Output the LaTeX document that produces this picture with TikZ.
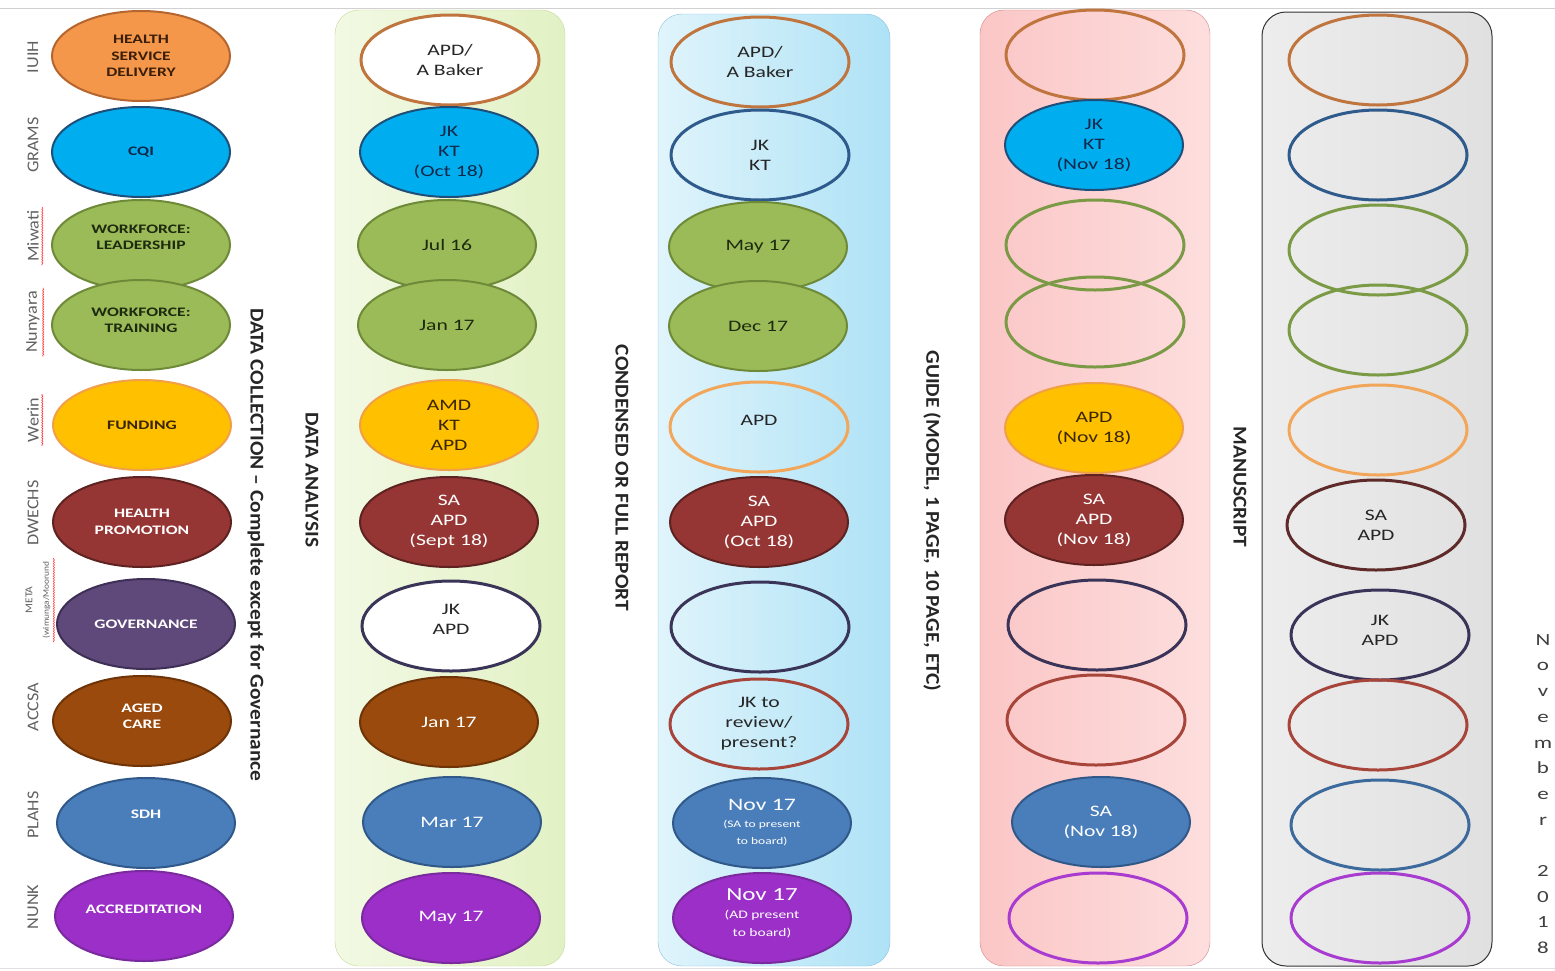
\documentclass[tikz,border=0pt]{standalone}
\usepackage{fontspec}
\setmainfont{Carlito}[FakeStretch=1.35]
\newfontfamily\headfont{Carlito}[FakeStretch=1.1]
\usetikzlibrary{shapes.geometric,decorations.pathmorphing}

\definecolor{hsd}{HTML}{F4974A}
\definecolor{hsdedge}{HTML}{B5662E}
\definecolor{hsdtext}{HTML}{3B1E08}
\definecolor{hsdring}{HTML}{C0753E}
\definecolor{cqi}{HTML}{00AEEF}
\definecolor{cqiedge}{HTML}{1F4E79}
\definecolor{cqitext}{HTML}{12284A}
\definecolor{cqiring}{HTML}{2E5A8C}
\definecolor{wf}{HTML}{9BBB59}
\definecolor{wfedge}{HTML}{6E8A38}
\definecolor{wftext}{HTML}{1E2A0E}
\definecolor{wfring}{HTML}{7B9A45}
\definecolor{fund}{HTML}{FFC000}
\definecolor{fundedge}{HTML}{F0A048}
\definecolor{fundtext}{HTML}{3A2600}
\definecolor{fundring}{HTML}{F2A65A}
\definecolor{hp}{HTML}{963634}
\definecolor{hpedge}{HTML}{5E2221}
\definecolor{hpring}{HTML}{5E2A2A}
\definecolor{gov}{HTML}{5F497A}
\definecolor{govedge}{HTML}{3D2F55}
\definecolor{govring}{HTML}{3A3558}
\definecolor{aged}{HTML}{994A0C}
\definecolor{agededge}{HTML}{6E3408}
\definecolor{agedring}{HTML}{A8453A}
\definecolor{sdh}{HTML}{4A7EBB}
\definecolor{sdhedge}{HTML}{30598A}
\definecolor{sdhring}{HTML}{3D6A9C}
\definecolor{accr}{HTML}{9B2FC8}
\definecolor{accredge}{HTML}{7A2A9E}
\definecolor{accrring}{HTML}{A83BD0}
\colorlet{hptext}{white}
\colorlet{govtext}{white}
\colorlet{agedtext}{white}
\colorlet{sdhtext}{white}
\colorlet{accrtext}{white}
% panel shades
\definecolor{analysisleft}{HTML}{F2F9E4}
\definecolor{analysisright}{HTML}{E2F1C4}
\definecolor{analysisedge}{HTML}{C4D99A}
\definecolor{reportleft}{HTML}{E0F4FB}
\definecolor{reportright}{HTML}{AEE2F6}
\definecolor{reportedge}{HTML}{8CC0DE}
\definecolor{guideleft}{HTML}{FBC6C6}
\definecolor{guideright}{HTML}{FDDEDE}
\definecolor{guideedge}{HTML}{D08888}
\definecolor{manuleft}{HTML}{EDEDED}
\definecolor{manuright}{HTML}{E0E0E0}

\begin{document}
\begin{tikzpicture}[x=1pt, y=1pt,
	cell/.style={ellipse, minimum width=178pt, minimum height=90pt, inner sep=0pt,
		align=center, line width=2pt, font=\fontsize{16}{20}\selectfont},
	cat/.style={cell, font=\fontsize{13}{16.5}\selectfont\bfseries},
	filled/.style={fill=#1, draw=#1edge, text=#1text},
	ring/.style={draw=#1ring, line width=3pt, text=black!85},
	lift/.style={text depth=#1},
	site/.style={rotate=90, font=\headfont\fontsize{16.5}{16.5}\selectfont, text=black!62},
	head/.style={rotate=-90, font=\headfont\bfseries\fontsize{19.5}{20}\selectfont, text=black!85},
	squiggle/.style={red!75, line width=0.6pt, decorate,
		decoration={snake, amplitude=0.6pt, segment length=2.5pt}},
	]
	\useasboundingbox (0,0) rectangle (1555,-970);
	\draw[black!18] (0,-8) -- (1555,-8);
	\draw[black!12] (0,-968) -- (1555,-968);

	% stage panels
	\shadedraw[left color=analysisleft, right color=analysisright, draw=analysisedge, rounded corners=24pt] (335,-10) rectangle (565,-966);
	\shadedraw[left color=reportleft, right color=reportright, draw=reportedge, rounded corners=24pt] (658,-14) rectangle (890,-966);
	\shadedraw[left color=guideleft, right color=guideright, draw=guideedge, rounded corners=24pt] (980,-10) rectangle (1210,-966);
	\shadedraw[left color=manuleft, right color=manuright, draw=black!80, line width=1pt, rounded corners=24pt] (1262,-12) rectangle (1492,-966);

	% service sites
	\node[site] (iuih) at (33,-57) {IUIH};
	\node[site] (grams) at (33,-145) {GRAMS};
	\node[site] (miwati) at (33,-236) {Miwati};
	\node[site] (nunyara) at (33,-322) {Nunyara};
	\node[site] (werin) at (33,-420) {Werin};
	\node[site] (dwechs) at (33,-513) {DWECHS};
	\node[site, align=center] (meta) at (38,-600) {{\fontsize{10.5}{11}\selectfont META}\\{\fontsize{8.5}{10}\selectfont (wimunga/Moorund}};
	\node[site] (accsa) at (33,-707) {ACCSA};
	\node[site] (plahs) at (33,-815) {PLAHS};
	\node[site] (nunk) at (33,-907) {NUNK};
	\foreach \s in {miwati, nunyara, werin, meta}
		\draw[squiggle] (\s.south west) -- (\s.south east);

	% categories
	\node[cat, filled=hsd] (c1) at (141,-56) {HEALTH\\SERVICE\\DELIVERY};
	\node[cat, filled=cqi] (c2) at (141,-152) {CQI};
	\node[cat, filled=wf, lift=16pt] (c3) at (141,-245) {WORKFORCE:\\LEADERSHIP};
	\node[cat, filled=wf, lift=10pt] (c4) at (141,-325) {WORKFORCE:\\TRAINING};
	\node[cat, filled=fund] (c5) at (142,-425) {FUNDING};
	\node[cat, filled=hp] (c6) at (142,-522) {HEALTH\\PROMOTION};
	\node[cat, filled=gov] (c7) at (146,-624) {GOVERNANCE};
	\node[cat, filled=aged, lift=10pt] (c8) at (142,-721) {AGED\\CARE};
	\node[cat, filled=sdh, lift=18pt] (c9) at (146,-823) {SDH};
	\node[cat, filled=accr, lift=14pt] (c10) at (144,-916) {ACCREDITATION};

	% data analysis
	\node[cell, ring=hsd, fill=white] (a1) at (450,-60) {APD/\\A Baker};
	\node[cell, filled=cqi] (a2) at (449,-152) {JK\\KT\\(Oct 18)};
	\node[cell, filled=wf] (a3) at (447,-245) {Jul 16};
	\node[cell, filled=wf] (a4) at (447,-325) {Jan 17};
	\node[cell, filled=fund] (a5) at (449,-425) {AMD\\KT\\APD};
	\node[cell, filled=hp] (a6) at (449,-522) {SA\\APD\\(Sept 18)};
	\node[cell, ring=gov, fill=white, lift=14pt] (a7) at (451,-626) {JK\\APD};
	\node[cell, filled=aged] (a8) at (449,-722) {Jan 17};
	\node[cell, filled=sdh] (a9) at (452,-822) {Mar 17};
	\node[cell, filled=accr] (a10) at (451,-918) {May 17};

	% condensed or full report
	\node[cell, ring=hsd] (r1) at (760,-62) {APD/\\A Baker};
	\node[cell, ring=cqi] (r2) at (760,-155) {JK\\KT};
	\node[cell, filled=wf] (r3) at (758,-247) {May 17};
	\node[cell, filled=wf] (r4) at (758,-326) {Dec 17};
	\node[cell, ring=fund, lift=14pt] (r5) at (759,-427) {APD};
	\node[cell, filled=hp] (r6) at (759,-522) {SA\\APD\\(Oct 18)};
	\node[cell, ring=gov] (r7) at (760,-627) {};
	\node[cell, ring=aged] (r8) at (759,-724) {JK to\\review/\\present?};
	\node[cell, filled=sdh] (r9) at (762,-823) {{\fontsize{17.5}{19}\selectfont Nov 17}\\[-3pt]{\fontsize{10}{11}\selectfont (SA to present}\\[-3pt]{\fontsize{10}{11}\selectfont to board)}};
	\node[cell, filled=accr, lift=10pt] (r10) at (762,-918) {{\fontsize{18.5}{20}\selectfont Nov 17}\\[-2pt]{\fontsize{11.5}{13}\selectfont (AD present}\\[-2pt]{\fontsize{11.5}{13}\selectfont to board)}};

	% guide
	\node[cell, ring=hsd] (g1) at (1095,-55) {};
	\node[cell, filled=cqi] (g2) at (1094,-145) {JK\\KT\\(Nov 18)};
	\node[cell, ring=wf] (g3) at (1095,-245) {};
	\node[cell, ring=wf] (g4) at (1095,-322) {};
	\node[cell, filled=fund] (g5) at (1094,-428) {APD\\(Nov 18)};
	\node[cell, filled=hp] (g6) at (1094,-520) {SA\\APD\\(Nov 18)};
	\node[cell, ring=gov] (g7) at (1097,-625) {};
	\node[cell, ring=aged] (g8) at (1096,-720) {};
	\node[cell, filled=sdh] (g9) at (1101,-822) {SA\\(Nov 18)};
	\node[cell, ring=accr] (g10) at (1098,-918) {};

	% manuscript
	\node[cell, ring=hsd] (m1) at (1378,-60) {};
	\node[cell, ring=cqi] (m2) at (1378,-155) {};
	\node[cell, ring=wf] (m3) at (1378,-250) {};
	\node[cell, ring=wf] (m4) at (1378,-330) {};
	\node[cell, ring=fund] (m5) at (1378,-430) {};
	\node[cell, ring=hp] (m6) at (1376,-525) {SA\\APD};
	\node[cell, ring=gov, lift=10pt] (m7) at (1380,-635) {JK\\APD};
	\node[cell, ring=aged] (m8) at (1378,-725) {};
	\node[cell, ring=sdh] (m9) at (1380,-825) {};
	\node[cell, ring=accr] (m10) at (1380,-918) {};

	% stage titles
	\node[head] (collect) at (256,-545) {DATA COLLECTION – Complete except for Governance};
	\node[head] (analysis) at (312,-480) {DATA ANALYSIS};
	\node[head] (report) at (622,-478) {CONDENSED OR FULL REPORT};
	\node[head] (guide) at (932,-521) {GUIDE (MODEL, 1 PAGE, 10 PAGE, ETC)};
	\node[head] (manu) at (1240,-487) {MANUSCRIPT};
	\node[align=center, text=black!75, font=\fontsize{17}{25.7}\selectfont] (month) at (1543,-794) {N\\o\\v\\e\\m\\b\\e\\r\\[25.7pt]2\\0\\1\\8};
\end{tikzpicture}
\end{document}
